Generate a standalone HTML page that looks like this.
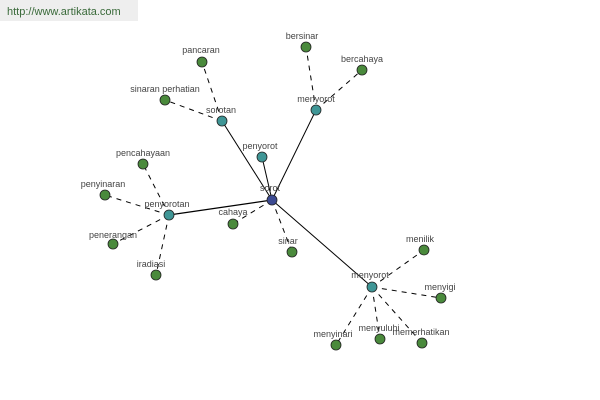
<!DOCTYPE html>
<html><head><meta charset="utf-8"><style>
html,body{margin:0;padding:0;background:#fff;width:600px;height:400px;overflow:hidden}
text{font-family:"Liberation Sans",sans-serif;font-size:9px;fill:#444}
</style></head><body>
<svg width="600" height="400" xmlns="http://www.w3.org/2000/svg">
<rect x="0" y="0" width="138" height="21" fill="#eeeeee"/>
<text x="7" y="15" style="font-size:11px;fill:#3a6a3a">http://www.artikata.com</text>
<g stroke="#000" stroke-width="1">
<line x1="272" y1="200" x2="222" y2="121"/>
<line x1="272" y1="200" x2="316" y2="110"/>
<line x1="272" y1="200" x2="262" y2="157"/>
<line x1="272" y1="200" x2="169" y2="215" stroke-width="1.3"/>
<line x1="272" y1="200" x2="372" y2="287"/>
</g>
<g stroke="#000" stroke-width="1" stroke-dasharray="5,5">
<line x1="272" y1="200" x2="233" y2="224"/>
<line x1="272" y1="200" x2="292" y2="252"/>
<line x1="222" y1="121" x2="202" y2="62"/>
<line x1="222" y1="121" x2="165" y2="100"/>
<line x1="316" y1="110" x2="306" y2="47"/>
<line x1="316" y1="110" x2="362" y2="70"/>
<line x1="169" y1="215" x2="143" y2="164"/>
<line x1="169" y1="215" x2="105" y2="195"/>
<line x1="169" y1="215" x2="113" y2="244"/>
<line x1="169" y1="215" x2="156" y2="275"/>
<line x1="372" y1="287" x2="424" y2="250"/>
<line x1="372" y1="287" x2="441" y2="298"/>
<line x1="372" y1="287" x2="336" y2="345"/>
<line x1="372" y1="287" x2="380" y2="339"/>
<line x1="372" y1="287" x2="422" y2="343"/>
</g>
<g stroke="#222" stroke-width="0.8">
<circle cx="272" cy="200" r="5" fill="#3c4a92"/>
<g fill="#3f9696">
<circle cx="222" cy="121" r="5"/><circle cx="316" cy="110" r="5"/><circle cx="262" cy="157" r="5"/><circle cx="169" cy="215" r="5"/><circle cx="372" cy="287" r="5"/>
</g>
<g fill="#4a8a3c">
<circle cx="202" cy="62" r="5"/><circle cx="165" cy="100" r="5"/><circle cx="306" cy="47" r="5"/><circle cx="362" cy="70" r="5"/>
<circle cx="143" cy="164" r="5"/><circle cx="105" cy="195" r="5"/><circle cx="113" cy="244" r="5"/><circle cx="156" cy="275" r="5"/>
<circle cx="233" cy="224" r="5"/><circle cx="292" cy="252" r="5"/>
<circle cx="424" cy="250" r="5"/><circle cx="441" cy="298" r="5"/><circle cx="336" cy="345" r="5"/><circle cx="380" cy="339" r="5"/><circle cx="422" cy="343" r="5"/>
</g>
</g>
<g text-anchor="middle">
<text x="270" y="191">sorot</text>
<text x="221" y="113">sorotan</text>
<text x="316" y="102">menyorot</text>
<text x="260" y="149">penyorot</text>
<text x="167" y="207">penyorotan</text>
<text x="370" y="278">menyorot</text>
<text x="201" y="53">pancaran</text>
<text x="165" y="92">sinaran perhatian</text>
<text x="302" y="39">bersinar</text>
<text x="362" y="62">bercahaya</text>
<text x="143" y="156">pencahayaan</text>
<text x="103" y="187">penyinaran</text>
<text x="113" y="238">penerangan</text>
<text x="151" y="267">iradiasi</text>
<text x="233" y="215">cahaya</text>
<text x="288" y="244">sinar</text>
<text x="420" y="242">menilik</text>
<text x="440" y="290">menyigi</text>
<text x="333" y="337">menyinari</text>
<text x="379" y="331">menyuluhi</text>
<text x="421" y="335">memerhatikan</text>
</g>
</svg>
</body></html>
